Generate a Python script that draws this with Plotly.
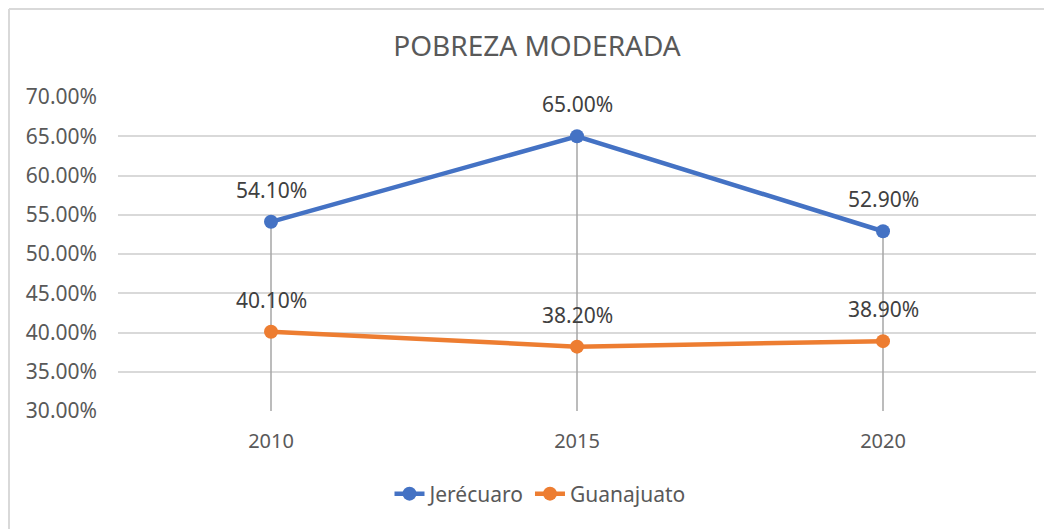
import plotly.graph_objects as go

years = ["2010", "2015", "2020"]
jerecuaro = [54.10, 65.00, 52.90]
guanajuato = [40.10, 38.20, 38.90]
series_names = ["Jerécuaro", "Guanajuato"]
colors = ["#4472C4", "#ED7D31"]
y_ticks = [30, 35, 40, 45, 50, 55, 60, 65, 70]
y_tick_labels = [f"{v:.2f}%" for v in y_ticks]

FONT = "Noto Sans"
GRAY = "#595959"

W, H = 1044, 521
L, R, T, B = 110, 16, 89, 118
PW, PH = W - L - R, H - T - B

fig = go.Figure()

# drop lines
dx, dy = [], []
for i, yr in enumerate(years):
    dx += [yr, yr, None]
    dy += [y_ticks[0], max(jerecuaro[i], guanajuato[i]), None]
fig.add_trace(go.Scatter(x=dx, y=dy, mode="lines", line=dict(color="#A6A6A6", width=1.5),
                         showlegend=False, hoverinfo="skip"))

for name, vals, c in zip(series_names, [jerecuaro, guanajuato], colors):
    fig.add_trace(go.Scatter(x=years, y=vals, mode="lines+markers", name=name,
                             line=dict(color=c, width=4.5), marker=dict(color=c, size=14)))
    for i, v in enumerate(vals):
        fig.add_annotation(x=i, y=v, xref="x", yref="y", text=f"{v:.2f}%", showarrow=False,
                           yshift=32, font=dict(family=FONT, size=21, color="#404040"))

fig.update_layout(
    width=W, height=H,
    margin=dict(l=L, r=R, t=T, b=B),
    paper_bgcolor="white", plot_bgcolor="white",
    title=dict(text="POBREZA MODERADA", x=(537 - 8) / W, xanchor="center",
               y=1 - (46 - 8) / H, yanchor="middle",
               font=dict(family=FONT, size=28, color=GRAY)),
    xaxis=dict(type="category", range=[-0.5, 2.5], showgrid=False, showline=False, ticks="",
               ticklabelstandoff=16,
               tickfont=dict(family=FONT, size=20, color=GRAY)),
    yaxis=dict(range=[y_ticks[0], y_ticks[-1]], tickvals=y_ticks, ticktext=y_tick_labels,
               showgrid=True, gridcolor="#D9D9D9", gridwidth=1.5, zeroline=False, showline=False,
               ticks="", ticklabelstandoff=20,
               tickfont=dict(family=FONT, size=21, color=GRAY)),
    legend=dict(orientation="h", x=(540 - 118) / PW, xanchor="center",
                y=-(494 - 411) / PH, yanchor="middle",
                font=dict(family=FONT, size=21, color=GRAY)),
    showlegend=True,
)

# chart area border (left and top edges visible)
fig.add_shape(type="line", xref="paper", yref="paper", x0=-109 / PW, x1=-109 / PW,
              y0=-B / PH, y1=1 + 88 / PH, line=dict(color="#D9D9D9", width=2))
fig.add_shape(type="line", xref="paper", yref="paper", x0=-109 / PW, x1=1 + R / PW,
              y0=1 + 88 / PH, y1=1 + 88 / PH, line=dict(color="#D9D9D9", width=2))

fig.write_html("out.html")
